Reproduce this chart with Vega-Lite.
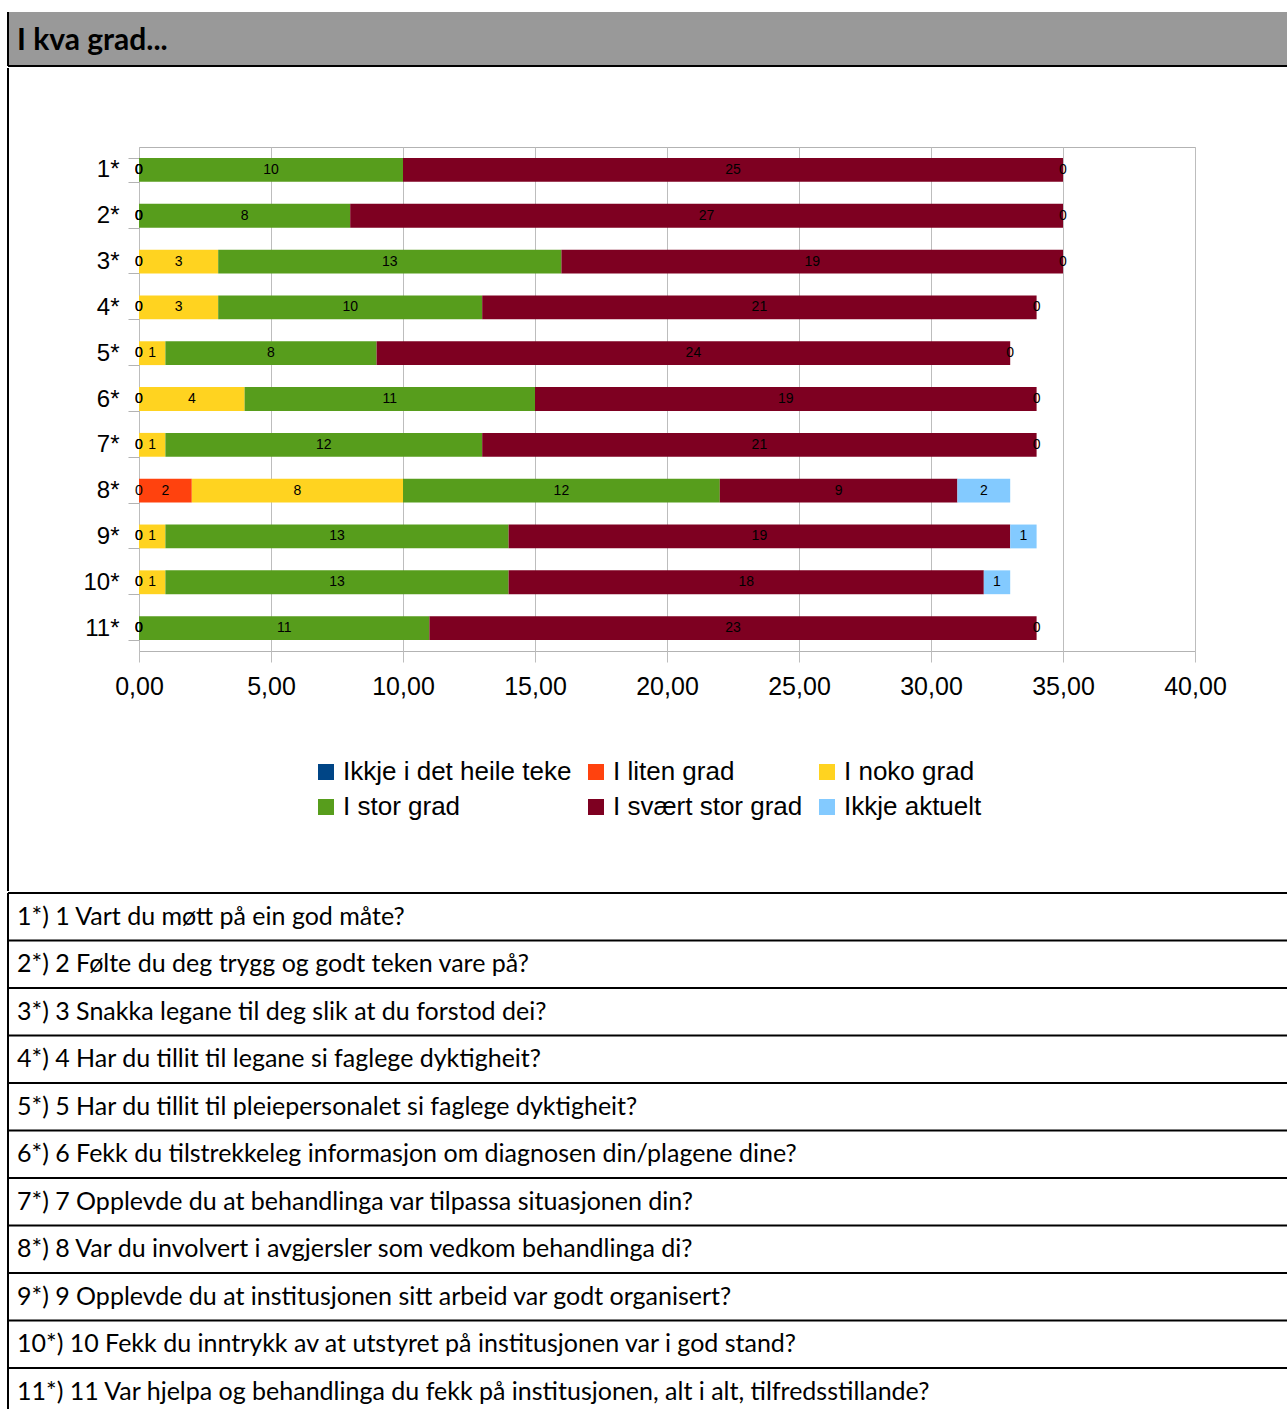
{
  "$schema": "https://vega.github.io/schema/vega-lite/v6.json",
  "padding": {"left": 7, "top": 11, "right": 0, "bottom": 0},
  "background": "white",
  "config": {"view": {"stroke": null}, "font": "Liberation Sans"},
  "datasets": {
    "bars": [
      {"q": "1*", "c": "Ikkje i det heile teke", "k": 1, "v": 0},
      {"q": "1*", "c": "I liten grad", "k": 2, "v": 0},
      {"q": "1*", "c": "I noko grad", "k": 3, "v": 0},
      {"q": "1*", "c": "I stor grad", "k": 4, "v": 10},
      {"q": "1*", "c": "I svært stor grad", "k": 5, "v": 25},
      {"q": "1*", "c": "Ikkje aktuelt", "k": 6, "v": 0},
      {"q": "2*", "c": "Ikkje i det heile teke", "k": 1, "v": 0},
      {"q": "2*", "c": "I liten grad", "k": 2, "v": 0},
      {"q": "2*", "c": "I noko grad", "k": 3, "v": 0},
      {"q": "2*", "c": "I stor grad", "k": 4, "v": 8},
      {"q": "2*", "c": "I svært stor grad", "k": 5, "v": 27},
      {"q": "2*", "c": "Ikkje aktuelt", "k": 6, "v": 0},
      {"q": "3*", "c": "Ikkje i det heile teke", "k": 1, "v": 0},
      {"q": "3*", "c": "I liten grad", "k": 2, "v": 0},
      {"q": "3*", "c": "I noko grad", "k": 3, "v": 3},
      {"q": "3*", "c": "I stor grad", "k": 4, "v": 13},
      {"q": "3*", "c": "I svært stor grad", "k": 5, "v": 19},
      {"q": "3*", "c": "Ikkje aktuelt", "k": 6, "v": 0},
      {"q": "4*", "c": "Ikkje i det heile teke", "k": 1, "v": 0},
      {"q": "4*", "c": "I liten grad", "k": 2, "v": 0},
      {"q": "4*", "c": "I noko grad", "k": 3, "v": 3},
      {"q": "4*", "c": "I stor grad", "k": 4, "v": 10},
      {"q": "4*", "c": "I svært stor grad", "k": 5, "v": 21},
      {"q": "4*", "c": "Ikkje aktuelt", "k": 6, "v": 0},
      {"q": "5*", "c": "Ikkje i det heile teke", "k": 1, "v": 0},
      {"q": "5*", "c": "I liten grad", "k": 2, "v": 0},
      {"q": "5*", "c": "I noko grad", "k": 3, "v": 1},
      {"q": "5*", "c": "I stor grad", "k": 4, "v": 8},
      {"q": "5*", "c": "I svært stor grad", "k": 5, "v": 24},
      {"q": "5*", "c": "Ikkje aktuelt", "k": 6, "v": 0},
      {"q": "6*", "c": "Ikkje i det heile teke", "k": 1, "v": 0},
      {"q": "6*", "c": "I liten grad", "k": 2, "v": 0},
      {"q": "6*", "c": "I noko grad", "k": 3, "v": 4},
      {"q": "6*", "c": "I stor grad", "k": 4, "v": 11},
      {"q": "6*", "c": "I svært stor grad", "k": 5, "v": 19},
      {"q": "6*", "c": "Ikkje aktuelt", "k": 6, "v": 0},
      {"q": "7*", "c": "Ikkje i det heile teke", "k": 1, "v": 0},
      {"q": "7*", "c": "I liten grad", "k": 2, "v": 0},
      {"q": "7*", "c": "I noko grad", "k": 3, "v": 1},
      {"q": "7*", "c": "I stor grad", "k": 4, "v": 12},
      {"q": "7*", "c": "I svært stor grad", "k": 5, "v": 21},
      {"q": "7*", "c": "Ikkje aktuelt", "k": 6, "v": 0},
      {"q": "8*", "c": "Ikkje i det heile teke", "k": 1, "v": 0},
      {"q": "8*", "c": "I liten grad", "k": 2, "v": 2},
      {"q": "8*", "c": "I noko grad", "k": 3, "v": 8},
      {"q": "8*", "c": "I stor grad", "k": 4, "v": 12},
      {"q": "8*", "c": "I svært stor grad", "k": 5, "v": 9},
      {"q": "8*", "c": "Ikkje aktuelt", "k": 6, "v": 2},
      {"q": "9*", "c": "Ikkje i det heile teke", "k": 1, "v": 0},
      {"q": "9*", "c": "I liten grad", "k": 2, "v": 0},
      {"q": "9*", "c": "I noko grad", "k": 3, "v": 1},
      {"q": "9*", "c": "I stor grad", "k": 4, "v": 13},
      {"q": "9*", "c": "I svært stor grad", "k": 5, "v": 19},
      {"q": "9*", "c": "Ikkje aktuelt", "k": 6, "v": 1},
      {"q": "10*", "c": "Ikkje i det heile teke", "k": 1, "v": 0},
      {"q": "10*", "c": "I liten grad", "k": 2, "v": 0},
      {"q": "10*", "c": "I noko grad", "k": 3, "v": 1},
      {"q": "10*", "c": "I stor grad", "k": 4, "v": 13},
      {"q": "10*", "c": "I svært stor grad", "k": 5, "v": 18},
      {"q": "10*", "c": "Ikkje aktuelt", "k": 6, "v": 1},
      {"q": "11*", "c": "Ikkje i det heile teke", "k": 1, "v": 0},
      {"q": "11*", "c": "I liten grad", "k": 2, "v": 0},
      {"q": "11*", "c": "I noko grad", "k": 3, "v": 0},
      {"q": "11*", "c": "I stor grad", "k": 4, "v": 11},
      {"q": "11*", "c": "I svært stor grad", "k": 5, "v": 23},
      {"q": "11*", "c": "Ikkje aktuelt", "k": 6, "v": 0}
    ],
    "questions": [
      {"n": "1*", "t": "1*) 1 Vart du møtt på ein god måte?"},
      {"n": "2*", "t": "2*) 2 Følte du deg trygg og godt teken vare på?"},
      {"n": "3*", "t": "3*) 3 Snakka legane til deg slik at du forstod dei?"},
      {"n": "4*", "t": "4*) 4 Har du tillit til legane si faglege dyktigheit?"},
      {"n": "5*", "t": "5*) 5 Har du tillit til pleiepersonalet si faglege dyktigheit?"},
      {"n": "6*", "t": "6*) 6 Fekk du tilstrekkeleg informasjon om diagnosen din/plagene dine?"},
      {"n": "7*", "t": "7*) 7 Opplevde du at behandlinga var tilpassa situasjonen din?"},
      {"n": "8*", "t": "8*) 8 Var du involvert i avgjersler som vedkom behandlinga di?"},
      {"n": "9*", "t": "9*) 9 Opplevde du at institusjonen sitt arbeid var godt organisert?"},
      {"n": "10*", "t": "10*) 10 Fekk du inntrykk av at utstyret på institusjonen var i god stand?"},
      {"n": "11*", "t": "11*) 11 Var hjelpa og behandlinga du fekk på institusjonen, alt i alt, tilfredsstillande?"}
    ],
    "header": [{"t": "I kva grad..."}]
  },
  "vconcat": [
    {
      "width": 1279,
      "height": 54,
      "view": {"fill": "#999999", "stroke": null},
      "data": {"name": "header"},
      "layer": [
        {
          "mark": {"type": "text", "align": "left", "baseline": "middle", "font": "Lato", "fontWeight": "bold", "fontSize": 30, "dx": 9, "dy": 2, "color": "black"},
          "encoding": {
            "x": {"datum": 0, "type": "quantitative", "scale": {"domain": [0, 1]}, "axis": null},
            "text": {"field": "t"}
          }
        },
        {
          "mark": {"type": "rule", "color": "black", "strokeWidth": 2},
          "encoding": {"y": {"datum": 0, "type": "quantitative", "scale": {"domain": [0, 1]}, "axis": null}}
        },
        {
          "mark": {"type": "rule", "color": "black", "strokeWidth": 2},
          "encoding": {"x": {"datum": 0, "type": "quantitative", "scale": {"domain": [0, 1]}, "axis": null}}
        }
      ]
    },
    {
      "concat": [
        {
          "width": 1,
          "height": 744,
          "data": {"name": "header"},
          "mark": {"type": "rule", "color": "black", "strokeWidth": 2, "yOffset": -79},
          "encoding": {
            "x": {"datum": 0, "type": "quantitative", "scale": {"domain": [0, 1]}, "axis": null},
            "y": {"datum": 1, "type": "quantitative", "scale": {"domain": [0, 1]}, "axis": null},
            "y2": {"datum": 0}
          }
        },
        {
          "width": 1056,
          "height": 504,
          "title": {"text": " ", "fontSize": 1, "offset": 64},
          "view": {"stroke": "#b3b3b3"},
          "data": {"name": "bars"},
          "encoding": {
            "y": {
              "field": "q", "type": "nominal", "sort": null,
              "scale": {"paddingInner": 0.48, "paddingOuter": 0.24},
              "axis": {"title": null, "labelFontSize": 24, "labelColor": "black", "labelPadding": 9, "ticks": true, "tickBand": "extent", "tickSize": 11, "tickColor": "#b3b3b3", "domain": false, "grid": false, "minExtent": 129, "maxExtent": 129}
            }
          },
          "layer": [
            {
              "mark": {"type": "bar"},
              "encoding": {
                "x": {
                  "field": "v", "type": "quantitative", "stack": "zero",
                  "scale": {"domain": [0, 40], "nice": false},
                  "axis": {"title": null, "values": [0, 5, 10, 15, 20, 25, 30, 35, 40], "labelExpr": "replace(format(datum.value, '.2f'), '.', ',')", "labelFontSize": 25, "labelColor": "black", "labelPadding": 12, "labelFlush": false, "labelOverlap": false, "grid": true, "gridColor": "#bdbdbd", "tickSize": 11, "tickColor": "#bdbdbd", "domain": false}
                },
                "color": {
                  "field": "c", "type": "nominal",
                  "scale": {
                    "domain": ["Ikkje i det heile teke", "I liten grad", "I noko grad", "I stor grad", "I svært stor grad", "Ikkje aktuelt"],
                    "range": ["#004586", "#ff420e", "#ffd320", "#579d1c", "#7e0021", "#83caff"]
                  },
                  "legend": {
                    "title": null, "orient": "none", "legendX": 305, "legendY": 747, "direction": "horizontal", "columns": 3,
                    "symbolType": "square", "symbolSize": 256, "symbolStrokeWidth": 0, "symbolOpacity": 1,
                    "labelFontSize": 26, "labelColor": "black", "labelLimit": 500, "labelOffset": 4,
                    "columnPadding": 11, "rowPadding": 9
                  }
                },
                "order": {"field": "k", "type": "quantitative"}
              }
            },
            {
              "mark": {"type": "text", "fontSize": 14, "color": "black", "baseline": "middle", "align": "center"},
              "encoding": {
                "x": {"field": "v", "type": "quantitative", "stack": "zero", "bandPosition": 0.5},
                "detail": {"field": "c"},
                "order": {"field": "k", "type": "quantitative"},
                "text": {"field": "v", "type": "quantitative"}
              }
            }
          ]
        }
      ],
      "columns": 2,
      "align": "none",
      "spacing": 0
    },
    {
      "width": 1279,
      "height": {"step": 47.5},
      "data": {"name": "questions"},
      "encoding": {
        "y": {"field": "n", "type": "nominal", "sort": null, "scale": {"paddingInner": 0, "paddingOuter": 0}, "axis": null}
      },
      "layer": [
        {
          "mark": {"type": "rule", "color": "black", "strokeWidth": 2},
          "encoding": {"y": {"field": "n", "type": "nominal", "sort": null, "bandPosition": 0}}
        },
        {
          "mark": {"type": "rule", "color": "black", "strokeWidth": 2},
          "encoding": {"x": {"datum": 0, "type": "quantitative", "scale": {"domain": [0, 1]}, "axis": null}, "y": null}
        },
        {
          "mark": {"type": "text", "align": "left", "baseline": "middle", "font": "Lato", "fontSize": 25, "dx": 9, "color": "black"},
          "encoding": {
            "x": {"datum": 0, "type": "quantitative", "scale": {"domain": [0, 1]}, "axis": null},
            "text": {"field": "t"}
          }
        }
      ]
    }
  ],
  "spacing": 0
}
